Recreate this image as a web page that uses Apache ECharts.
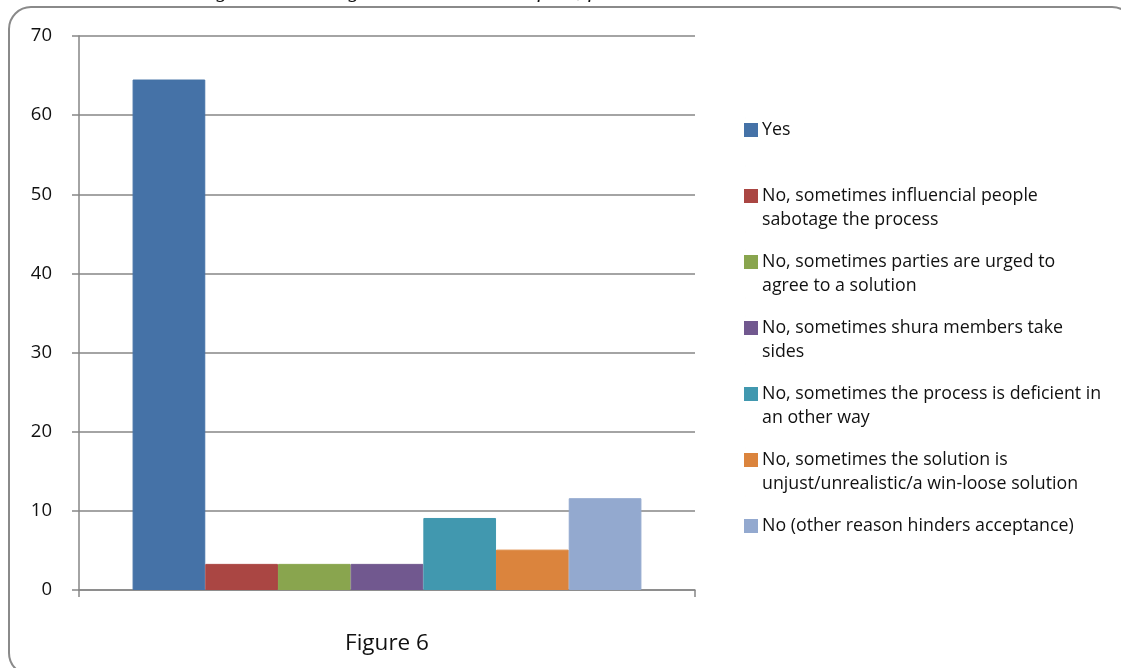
<!DOCTYPE html>
<html>
<head>
<meta charset="utf-8">
<script src="https://cdn.jsdelivr.net/npm/echarts@6/dist/echarts.min.js"></script>
<style>
  html, body { margin: 0; padding: 0; background: #fff; }
  #chart { width: 1121px; height: 668px; }
</style>
</head>
<body>
<div id="chart"></div>
<script>
// Responses: is the Shura's way of settling disputes acceptable?
const categories = ['Figure 6'];
const seriesNames = [
  'Yes',
  'No, sometimes influencial people sabotage the process',
  'No, sometimes parties are urged to agree to a solution',
  'No, sometimes shura members take sides',
  'No, sometimes the process is deficient in an other way',
  'No, sometimes the solution is unjust/unrealistic/a win-loose solution',
  'No (other reason hinders acceptance)'
];
// legend text, split the way each entry wraps
const legendLines = [
  ['Yes', ''],
  ['No, sometimes influencial people', 'sabotage the process'],
  ['No, sometimes parties are urged to', 'agree to a solution'],
  ['No, sometimes shura members take', 'sides'],
  ['No, sometimes the process is deficient in', 'an other way'],
  ['No, sometimes the solution is', 'unjust/unrealistic/a win-loose solution'],
  ['No (other reason hinders acceptance)', '']
];
const seriesValues = [64.5, 3.3, 3.3, 3.3, 9.1, 5.1, 11.6];
const seriesColors = ['#4572A7', '#AA4643', '#89A54E', '#71588F', '#4198AF', '#DB843D', '#93A9CF'];
const yTicks = { min: 0, max: 70, step: 10 };
const headingText = 'arbitrating and mediating Shura accessible? If not, for what reason?';

const FONT = '"Open Sans", "Noto Sans", sans-serif';
const AXIS_GRAY = '#868686';

const chart = echarts.init(document.getElementById('chart'), null, { renderer: 'canvas' });

const series = seriesNames.map((name, i) => ({
  name: name,
  type: 'bar',
  data: [seriesValues[i]],
  barGap: '0%',
  barCategoryGap: '17.4%',
  itemStyle: { color: seriesColors[i], borderColor: seriesColors[i], borderWidth: 1 },
  emphasis: { disabled: true }
}));

const option = {
  animation: false,
  backgroundColor: '#ffffff',
  textStyle: { fontFamily: FONT },
  grid: { left: 79, top: 36, right: 426, bottom: 78, containLabel: false },
  xAxis: {
    type: 'category',
    data: categories,
    name: categories[0],
    nameLocation: 'middle',
    nameGap: 42,
    nameTextStyle: { fontFamily: FONT, fontSize: 22.5, color: '#111' },
    axisLine: { show: true, lineStyle: { color: AXIS_GRAY, width: 1.5 } },
    axisTick: { show: true, length: 7, lineStyle: { color: AXIS_GRAY, width: 1.5 } },
    axisLabel: { show: false },
    splitLine: { show: false }
  },
  yAxis: {
    type: 'value',
    min: yTicks.min,
    max: yTicks.max,
    interval: yTicks.step,
    axisLine: { show: true, lineStyle: { color: AXIS_GRAY, width: 1.5 } },
    axisTick: { show: true, length: 7, lineStyle: { color: AXIS_GRAY, width: 1.5 } },
    axisLabel: { margin: 27, fontFamily: FONT, fontSize: 18.5, color: '#111' },
    splitLine: { show: true, lineStyle: { color: AXIS_GRAY, width: 1.5 } }
  },
  legend: {
    orient: 'vertical',
    left: 744,
    top: 117,
    padding: 0,
    itemGap: 16,
    itemWidth: 12,
    itemHeight: 48,
    selectedMode: false,
    // square swatch sitting beside the first text line
    icon: 'path://M0,6H12V18H0Z M0,0L0.01,0 M0,48L0.01,48',
    data: seriesNames,
    formatter: function (name) {
      const lines = legendLines[seriesNames.indexOf(name)];
      return '{t|' + lines[0] + '}\n{t|' + (lines[1] || ' ') + '}';
    },
    textStyle: {
      fontFamily: FONT,
      fontSize: 17.8,
      lineHeight: 24,
      color: '#111',
      rich: { t: { fontFamily: FONT, fontSize: 17.8, lineHeight: 24, color: '#111' } }
    }
  },
  graphic: [
    {
      type: 'rect',
      silent: true,
      shape: { x: 9, y: 7, width: 1125, height: 668, r: 22 },
      style: { fill: 'none', stroke: '#8a8a8a', lineWidth: 2 },
      z: -1
    },
    {
      type: 'text',
      silent: true,
      left: 131,
      top: -20,
      style: {
        text: headingText,
        fontFamily: '"Liberation Serif", "DejaVu Serif", serif',
        fontStyle: 'italic',
        fontSize: 22,
        fill: '#111'
      }
    }
  ],
  series: series
};

chart.setOption(option);
</script>
</body>
</html>
